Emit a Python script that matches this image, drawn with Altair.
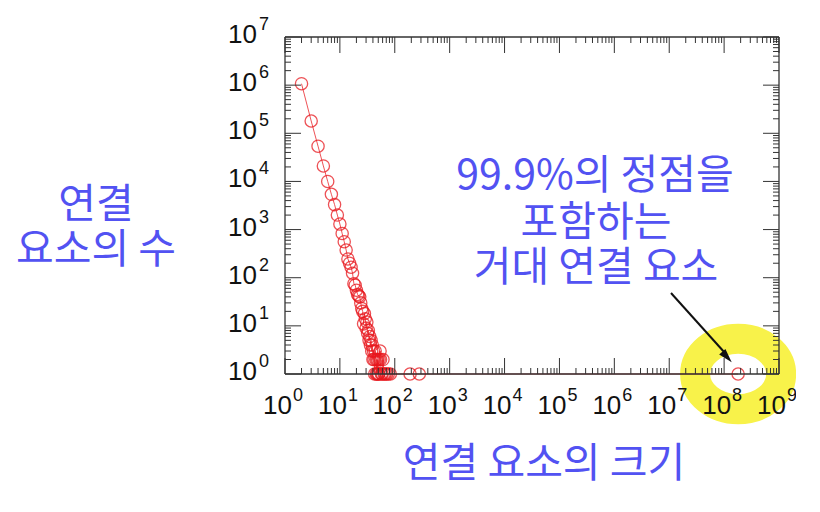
import altair as alt
import pandas as pd

# ---- data ----
sizes = [2, 3, 4, 5, 6, 7, 8, 9, 10, 11,
         12, 13, 14, 15, 16, 17, 18, 19, 20, 21,
         22, 23, 24, 25, 26, 27, 28, 29, 30, 31,
         32, 33, 34, 35, 36, 37, 38, 39, 40, 41,
         42, 43, 44, 45, 46, 47, 48, 49, 50, 51,
         52, 54, 55, 57, 59, 61, 64, 67, 71, 76,
         83, 190, 280, 180000000]
counts = [1070000, 180000, 54000, 21000, 10000, 5400, 3300, 2000, 1300, 830,
          560, 375, 245, 200, 165, 124, 75, 70, 55, 45,
          42, 40, 30, 23, 20, 11, 18, 14, 9, 12,
          7, 8, 5, 6, 4, 5, 3, 4, 2, 3,
          2, 1, 3, 2, 1, 2, 1, 2, 1, 1,
          2, 3, 2, 1, 1, 2, 1, 1, 1, 1,
          1, 1, 1, 1]
assert len(sizes) == len(counts)

x_exponents = ["0", "1", "2", "3", "4", "5", "6", "7", "8", "9"]
y_exponents = ["0", "1", "2", "3", "4", "5", "6", "7"]
minor_mult = [2, 3, 4, 5, 6, 7, 8, 9]

ylabel_lines = ["연결", "요소의 수"]
xlabel_text = "연결 요소의 크기"
note_lines = ["99.9%의 정점을", "포함하는", "거대 연결 요소"]

# ---- tables ----
df = pd.DataFrame({"size": sizes, "count": counts})
xmaj = pd.DataFrame({"v": [10.0 ** int(e) for e in x_exponents], "e": x_exponents})
ymaj = pd.DataFrame({"v": [10.0 ** int(e) for e in y_exponents], "e": y_exponents})
xmin = pd.DataFrame({"v": [m * 10.0 ** int(e) for e in x_exponents[:-1] for m in minor_mult]})
ymin = pd.DataFrame({"v": [m * 10.0 ** int(e) for e in y_exponents[:-1] for m in minor_mult]})

W, H = 494, 337
RED = "#e8181e"
BLUE = "#5252f2"
AX = "#333333"
KFONT = "Noto Sans CJK KR"
NFONT = "Liberation Sans"

xs = alt.Scale(type="log", domain=[1, 1e9], nice=False)
ys = alt.Scale(type="log", domain=[1, 1e7], nice=False)


def X(f="size"):
    return alt.X(f"{f}:Q", scale=xs, axis=None)


def Y(f="count"):
    return alt.Y(f"{f}:Q", scale=ys, axis=None)


base = alt.Chart(df)

# yellow highlight around the giant component
ring = base.transform_filter(alt.datum.size > 1e6).mark_point(
    shape="M-1,0 A1,0.82 0 1,1 1,0 A1,0.82 0 1,1 -1,0 Z",
    size=7400, filled=False, stroke="#f8f24a", strokeWidth=30, opacity=1,
).encode(x=X(), y=Y())

line = base.mark_line(color=RED, strokeWidth=1, opacity=0.75).encode(x=X(), y=Y())
pts = base.mark_point(shape="circle", size=150, filled=False, color=RED,
                      strokeWidth=1.3, opacity=0.75).encode(x=X(), y=Y())

layers = [ring, line, pts]

# ticks (inward, on all four sides)
for dfx, ln in ((xmaj, 16), (xmin, 6)):
    layers.append(alt.Chart(dfx).mark_rule(color=AX, strokeWidth=1).encode(
        x=X("v"), y=alt.value(H), y2=alt.value(H - ln)))
    layers.append(alt.Chart(dfx).mark_rule(color=AX, strokeWidth=1).encode(
        x=X("v"), y=alt.value(0), y2=alt.value(ln)))
for dfy, ln in ((ymaj, 16), (ymin, 6)):
    layers.append(alt.Chart(dfy).mark_rule(color=AX, strokeWidth=1).encode(
        y=Y("v"), x=alt.value(0), x2=alt.value(ln)))
    layers.append(alt.Chart(dfy).mark_rule(color=AX, strokeWidth=1).encode(
        y=Y("v"), x=alt.value(W), x2=alt.value(W - ln)))

# frame
frame = alt.Chart(df.head(1))
layers += [
    frame.mark_rule(color=AX, strokeWidth=1.3).encode(x=alt.value(0), x2=alt.value(W), y=alt.value(0)),
    frame.mark_rule(color=AX, strokeWidth=1.3).encode(x=alt.value(0), x2=alt.value(W), y=alt.value(H)),
    frame.mark_rule(color=AX, strokeWidth=1.3).encode(y=alt.value(0), y2=alt.value(H), x=alt.value(0)),
    frame.mark_rule(color=AX, strokeWidth=1.3).encode(y=alt.value(0), y2=alt.value(H), x=alt.value(W)),
]

# tick labels 10^n
layers += [
    alt.Chart(xmaj).mark_text(text="10", align="right", baseline="alphabetic", dx=7,
                              font=NFONT, fontSize=26, color="#111111").encode(
        x=X("v"), y=alt.value(H + 40)),
    alt.Chart(xmaj).mark_text(align="left", baseline="alphabetic", dx=8,
                              font=NFONT, fontSize=18, color="#111111").encode(
        x=X("v"), y=alt.value(H + 27), text="e:N"),
    alt.Chart(ymaj).mark_text(text="10", align="right", baseline="alphabetic", dy=6,
                              font=NFONT, fontSize=26, color="#111111").encode(
        y=Y("v"), x=alt.value(-28)),
    alt.Chart(ymaj).mark_text(align="left", baseline="alphabetic", dy=-7,
                              font=NFONT, fontSize=18, color="#111111").encode(
        y=Y("v"), x=alt.value(-26), text="e:N"),
]

# Korean annotations
def ktext(txt, x, y):
    return frame.mark_text(text=txt, align="center", baseline="middle", font=KFONT,
                           fontSize=41, color=BLUE).encode(x=alt.value(x), y=alt.value(y))

layers += [
    ktext(ylabel_lines[0], -189, 169),
    ktext(ylabel_lines[1], -189, 214),
    ktext(xlabel_text, 259, 428),
    ktext(note_lines[0], 310, 140),
    ktext(note_lines[1], 311, 187),
    ktext(note_lines[2], 311, 232),
]

# arrow
layers += [
    frame.mark_rule(color="#111111", strokeWidth=2).encode(
        x=alt.value(386), y=alt.value(256), x2=alt.value(440), y2=alt.value(316)),
    frame.mark_point(shape="M0,-1 L0.6,1 L-0.6,1 Z", size=196, filled=True,
                     color="#111111", opacity=1, angle=138).encode(
        x=alt.value(442), y=alt.value(320)),
]

chart = alt.layer(*layers).properties(
    width=W, height=H,
    autosize=alt.AutoSizeParams(type="none"),
    padding={"left": 277, "top": 29, "right": 17, "bottom": 130},
).configure_view(stroke=None)

chart.save("out.html", embed_options={"renderer": "svg", "actions": False})
